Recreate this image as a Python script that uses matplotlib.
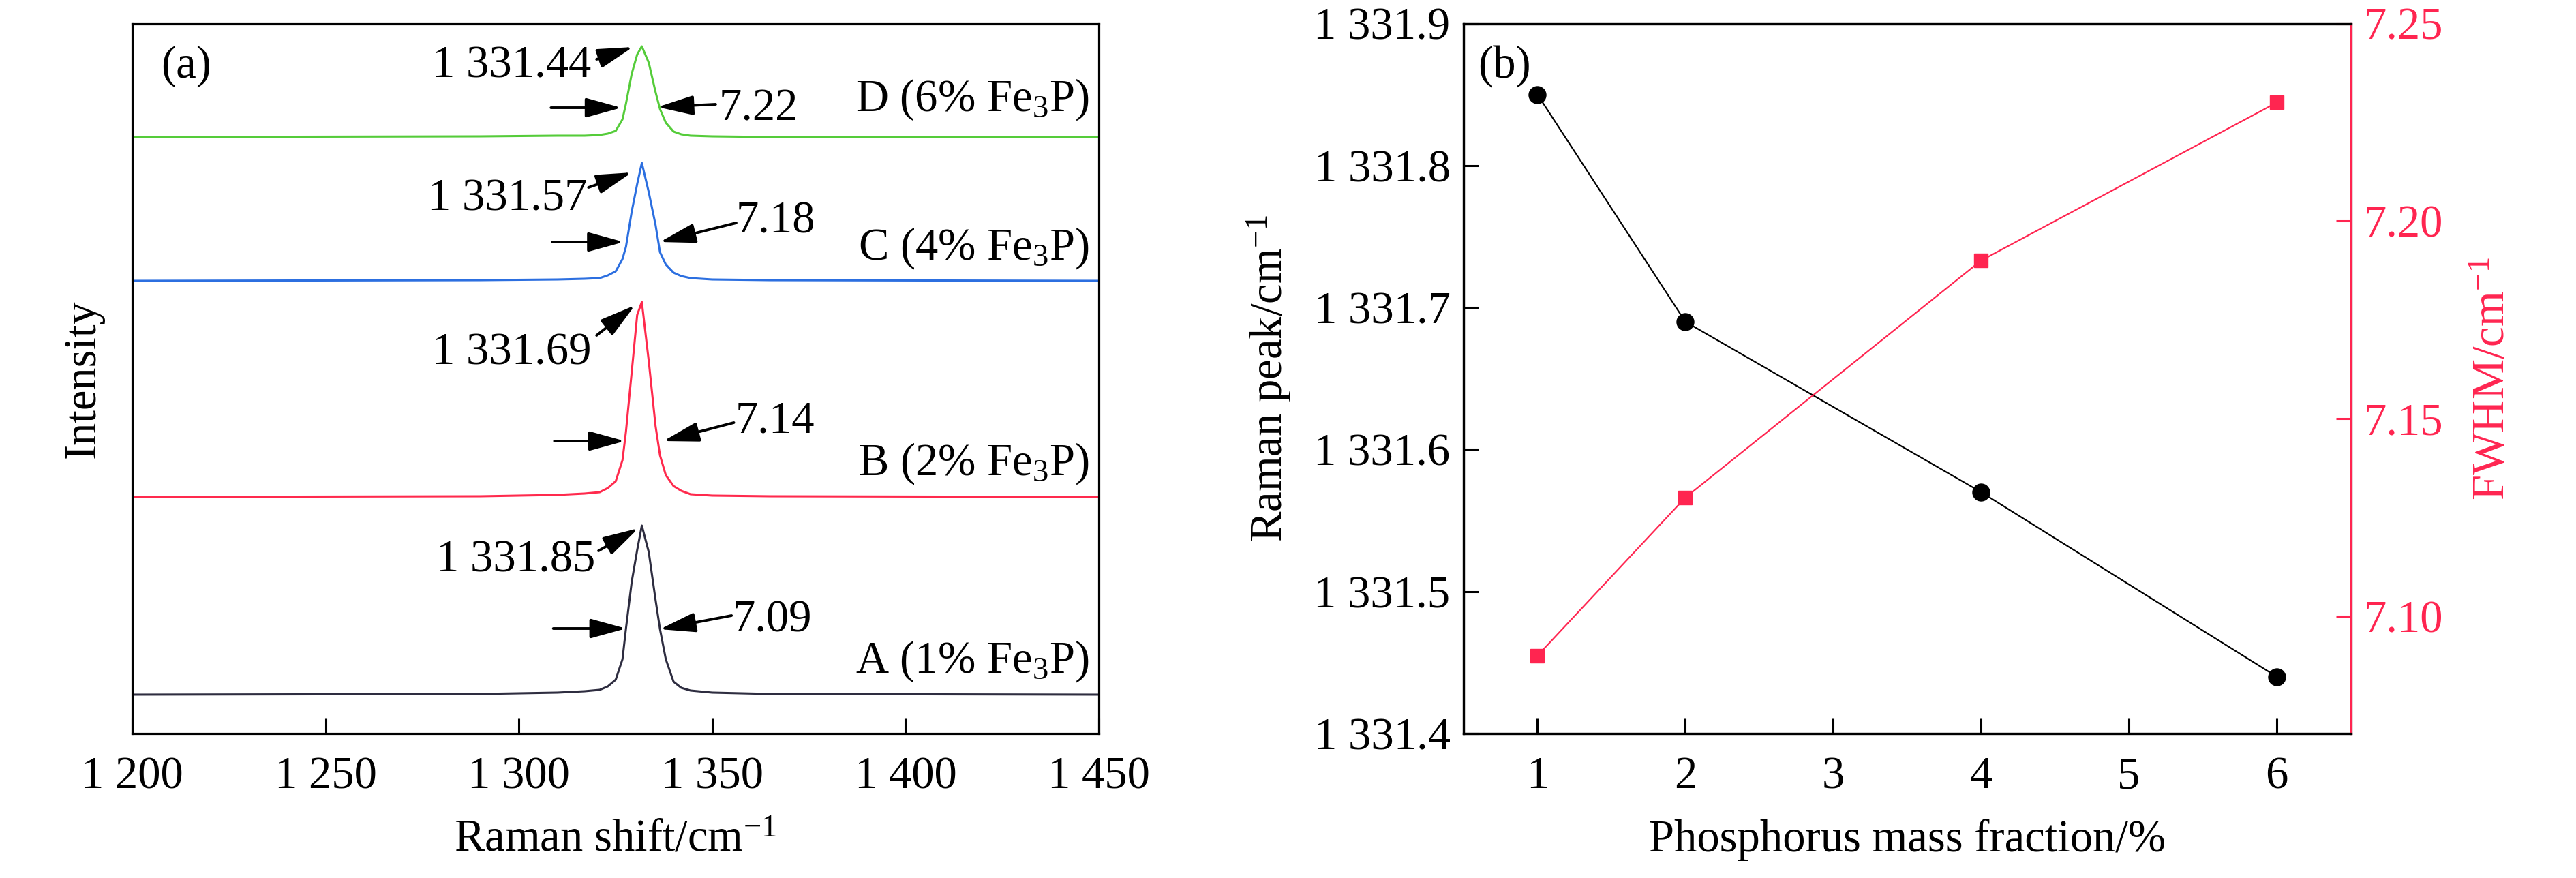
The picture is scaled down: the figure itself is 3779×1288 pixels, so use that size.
import matplotlib
matplotlib.use("Agg")
import matplotlib.pyplot as plt
from matplotlib.ticker import FixedLocator, FixedFormatter

plt.rcParams['font.family'] = ['Liberation Serif', 'DejaVu Serif']
plt.rcParams['mathtext.fontset'] = 'custom'
plt.rcParams['mathtext.rm'] = 'Liberation Serif'
plt.rcParams['mathtext.it'] = 'Liberation Serif:italic'
plt.rcParams['mathtext.bf'] = 'Liberation Serif:bold'

# ---------------- data: panel (a) spectra ----------------
raman_shift = [1200, 1290, 1310, 1317, 1320.9, 1323, 1325.05, 1326.8, 1327.7, 1329.2,
               1330.6, 1331.8, 1333.6, 1335.35, 1336.5, 1338.0, 1340.0, 1342, 1344.4,
               1350, 1365, 1450]
intensity_A = [57, 58, 60, 62, 64, 69, 79, 109, 154, 223, 269, 305, 266, 196, 153, 109,
               76, 67, 63, 60, 58, 57]
intensity_B = [347, 348, 350, 352, 354, 360, 370, 401, 443, 531, 614, 633, 546, 451, 408,
               379, 363, 356, 351, 349, 348, 347]
intensity_C = [664, 665, 666, 667, 668, 672, 678, 696, 714, 766, 806, 837, 794, 746, 706,
               688, 676, 671, 668, 666, 665, 664]
intensity_D = [875, 876, 877, 877, 878, 880, 884, 901, 924, 968, 996, 1008, 984, 941, 916,
               896, 883, 879, 877, 876, 875, 875]

sample_labels = ['A (1% Fe$_3$P)', 'B (2% Fe$_3$P)', 'C (4% Fe$_3$P)', 'D (6% Fe$_3$P)']
peak_labels = ['1 331.85', '1 331.69', '1 331.57', '1 331.44']
fwhm_labels = ['7.09', '7.14', '7.18', '7.22']
xticks_a = [1200, 1250, 1300, 1350, 1400, 1450]
xticklabels_a = ['1 200', '1 250', '1 300', '1 350', '1 400', '1 450']

# ---------------- data: panel (b) ----------------
p_fraction = [1, 2, 4, 6]
raman_peak = [1331.85, 1331.69, 1331.57, 1331.44]
fwhm = [7.09, 7.13, 7.19, 7.23]
yticks_b = [1331.4, 1331.5, 1331.6, 1331.7, 1331.8, 1331.9]
yticklabels_b = ['1 331.4', '1 331.5', '1 331.6', '1 331.7', '1 331.8', '1 331.9']
yticks_b2 = [7.10, 7.15, 7.20, 7.25]
yticklabels_b2 = ['7.10', '7.15', '7.20', '7.25']
xticks_b = [1, 2, 3, 4, 5, 6]

# ---------------- styles ----------------
curve_colors = ['#2e2d40', '#ff2a4d', '#2c6fe0', '#55cc3a']
RED = '#ff2550'
FS = 48
SPW = 2.3

fig = plt.figure(figsize=(37.8, 12.88), dpi=100)

# ================= panel (a) =================
ax = fig.add_axes([194/3780, 1-1076/1288, (1612-194)/3780, (1076-34.5)/1288])
for ys, c in zip([intensity_A, intensity_B, intensity_C, intensity_D], curve_colors):
    ax.plot(raman_shift, ys, color=c, lw=2.2, solid_joinstyle='round')
ax.set_xlim(1200, 1450)
ax.set_ylim(0, 1041.5)
ax.xaxis.set_major_locator(FixedLocator(xticks_a))
ax.xaxis.set_major_formatter(FixedFormatter(xticklabels_a))
ax.set_yticks([])
ax.tick_params(axis='x', direction='in', length=16, width=2.2, labelsize=FS, pad=24)
for s in ax.spines.values():
    s.set_linewidth(SPW)
ax.set_xlabel('Raman shift/cm$^{-1}$', fontsize=FS, labelpad=22)
ax.set_ylabel('Intensity', fontsize=FS, labelpad=30)
ax.text(0.03, 0.94, '(a)', transform=ax.transAxes, fontsize=FS, ha='left', va='center')

arrow_kw = dict(arrowstyle='-|>,head_length=0.8,head_width=0.22', color='black',
                lw=2.8, mutation_scale=40, shrinkA=0, shrinkB=0)

# annotation geometry (data coords)
peak_arrow_tail = [(1320.6, 268), (1320.1, 584), (1318.0, 801), (1320.1, 989)]
peak_arrow_head = [(1330.9, 301), (1330.0, 628), (1329.2, 823), (1329.5, 1007)]
peak_text_pos = [(1319.7, 254), (1318.7, 558), (1317.6, 784), (1318.7, 979)]
left_arrow_tail = [(1308.9, 154), (1309.2, 429), (1308.6, 721), (1308.3, 918)]
left_arrow_head = [(1327.7, 154), (1327.4, 429), (1327.1, 721), (1326.5, 918)]
right_arrow_tail = [(1355.0, 173), (1355.6, 456), (1356.2, 749), (1350.9, 923)]
right_arrow_head = [(1336.5, 153), (1337.4, 429), (1336.5, 721), (1335.9, 919)]
fwhm_text_pos = [(1355.3, 166), (1355.9, 458), (1356.2, 751), (1351.7, 916)]
sample_text_y = [106, 396, 712, 930]

for i in range(4):
    ax.annotate('', xy=peak_arrow_head[i], xytext=peak_arrow_tail[i], arrowprops=arrow_kw)
    ax.annotate('', xy=left_arrow_head[i], xytext=left_arrow_tail[i], arrowprops=arrow_kw)
    ax.annotate('', xy=right_arrow_head[i], xytext=right_arrow_tail[i], arrowprops=arrow_kw)
    ax.text(*peak_text_pos[i], peak_labels[i], fontsize=FS, ha='right', va='center')
    ax.text(*fwhm_text_pos[i], fwhm_labels[i], fontsize=FS, ha='left', va='center')
    ax.text(1447.5, sample_text_y[i], sample_labels[i], fontsize=FS, ha='right', va='center')

# ================= panel (b) =================
bx = fig.add_axes([2147/3780, 1-1076/1288, (3448.5-2147)/3780, (1076-34.5)/1288])
bx.plot(p_fraction, raman_peak, color='black', lw=1.6, marker='o', markersize=18)
bx.set_xlim(0.5, 6.5)
bx.set_ylim(1331.4, 1331.9)
bx.xaxis.set_major_locator(FixedLocator(xticks_b))
bx.yaxis.set_major_locator(FixedLocator(yticks_b))
bx.yaxis.set_major_formatter(FixedFormatter(yticklabels_b))
bx.tick_params(axis='x', direction='in', length=16, width=2.2, labelsize=FS, pad=24)
bx.tick_params(axis='y', direction='in', length=16, width=2.2, labelsize=FS, pad=14)
for s in bx.spines.values():
    s.set_linewidth(SPW)
bx.set_xlabel('Phosphorus mass fraction/%', fontsize=FS, labelpad=22)
bx.set_ylabel('Raman peak/cm$^{-1}$', fontsize=FS, labelpad=22)
bx.text(0.016, 0.94, '(b)', transform=bx.transAxes, fontsize=FS, ha='left', va='center')

bx2 = bx.twinx()
bx2.plot(p_fraction, fwhm, color=RED, lw=1.6, marker='s', markersize=15)
bx2.set_ylim(7.0703, 7.25)
bx2.yaxis.set_major_locator(FixedLocator(yticks_b2))
bx2.yaxis.set_major_formatter(FixedFormatter(yticklabels_b2))
bx2.tick_params(axis='y', direction='in', length=16, width=2.2, labelsize=FS, pad=14,
                colors=RED)
for s in bx2.spines.values():
    s.set_linewidth(SPW)
bx2.spines['right'].set_color(RED)
bx2.set_ylabel('FWHM/cm$^{-1}$', fontsize=FS, color=RED, labelpad=30)

fig.savefig('out.png', dpi=100)
